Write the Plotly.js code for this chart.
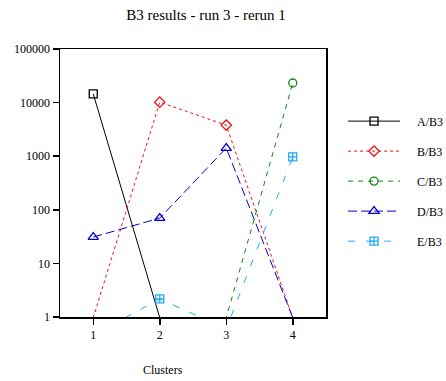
<!DOCTYPE html>
<html>
<head>
<meta charset="utf-8">
<script src="https://cdn.plot.ly/plotly-3.0.1.min.js"></script>
<style>html,body{margin:0;padding:0;background:#fff;}#chart{width:446px;height:381px;}</style>
</head>
<body>
<div id="chart"></div>
<script>
// Data (values below 1 fall under the log axis floor)
var clusters = [1, 2, 3, 4];
var seriesNames = ["A/B3", "B/B3", "C/B3", "D/B3", "E/B3"];
var valuesA = [14500, 0.97, 0.97, 0.97];
var valuesB = [0.97, 10200, 3800, 0.97];
var valuesC = [0.97, 0.97, 0.97, 23200];
var valuesD = [31, 70, 1420, 0.97];
var valuesE = [0.46, 2.17, 0.6, 970];
var yTickVals = [1, 10, 100, 1000, 10000, 100000];
var yTickText = ["1", "10", "100", "1000", "10000", "100000"];
var xTickText = ["1", "2", "3", "4"];

var allValues = [valuesA, valuesB, valuesC, valuesD, valuesE];
var colors = ["#000000", "#ee1111", "#118811", "#0000cc", "#22aaee"];
var dashes = ["solid", "3px,3px", "5px,5px", "9px,4px", "7px,11px"];
var symbols = ["square-open", "diamond-open", "circle-open", "triangle-up-open", "square-cross-open"];
var sizes = [8, 8, 8, 9, 8];

var traces = allValues.map(function (vals, i) {
  var visiblePts = [];
  vals.forEach(function (v, k) { if (v >= 1) visiblePts.push(k); });
  return {
    x: clusters,
    y: vals,
    name: "\u2002\u2002" + seriesNames[i],
    legendgroup: "g" + i,
    type: "scatter",
    mode: "lines+markers",
    cliponaxis: true,
    selectedpoints: visiblePts,
    selected: {marker: {opacity: 1}},
    unselected: {marker: {opacity: 0}},
    line: {color: colors[i], width: 1, dash: dashes[i]},
    marker: {
      symbol: symbols[i], size: sizes[i], color: colors[i],
      line: {color: colors[i], width: 1.3}
    }
  };
});

var serif = "Liberation Serif, Times New Roman, serif";
var layout = {
  width: 446, height: 381,
  margin: {l: 60, r: 120, t: 49, b: 64, autoexpand: false},
  paper_bgcolor: "#ffffff", plot_bgcolor: "#ffffff",
  font: {family: serif, color: "#000", size: 11},
  title: {text: "B3 results - run 3 - rerun 1", font: {family: serif, size: 15, color: "#000"},
          x: 0.462, xanchor: "center", xref: "container", y: 1 - 15 / 381, yanchor: "middle", yref: "container"},
  xaxis: {
    range: [0.5, 4.5], tickvals: clusters, ticktext: xTickText,
    showgrid: false, zeroline: false, showline: true, mirror: true,
    linecolor: "#000", linewidth: 1.5, ticks: "outside", ticklen: 6, tickwidth: 1.5, tickcolor: "#000",
    tickfont: {family: serif, size: 12}
  },
  yaxis: {
    type: "log", range: [0, 5], tickvals: yTickVals, ticktext: yTickText,
    showgrid: false, zeroline: false, showline: true, mirror: true,
    linecolor: "#000", linewidth: 1.5, ticks: "outside", ticklen: 6, tickwidth: 1.5, tickcolor: "#000",
    tickfont: {family: serif, size: 12}
  },
  showlegend: true,
  legend: {
    x: 1.064, xanchor: "left", y: 0.785, yanchor: "top",
    font: {family: serif, size: 12, color: "#000"},
    tracegroupgap: 11, itemwidth: 52, bgcolor: "rgba(0,0,0,0)"
  },
  annotations: [{
    text: "Clusters", xref: "paper", yref: "paper", x: 0.387, y: -0.198,
    xanchor: "center", yanchor: "middle", showarrow: false,
    font: {family: serif, size: 12, color: "#000"}
  }]
};

Plotly.newPlot("chart", traces, layout, {displayModeBar: false, staticPlot: true});
</script>
</body>
</html>
